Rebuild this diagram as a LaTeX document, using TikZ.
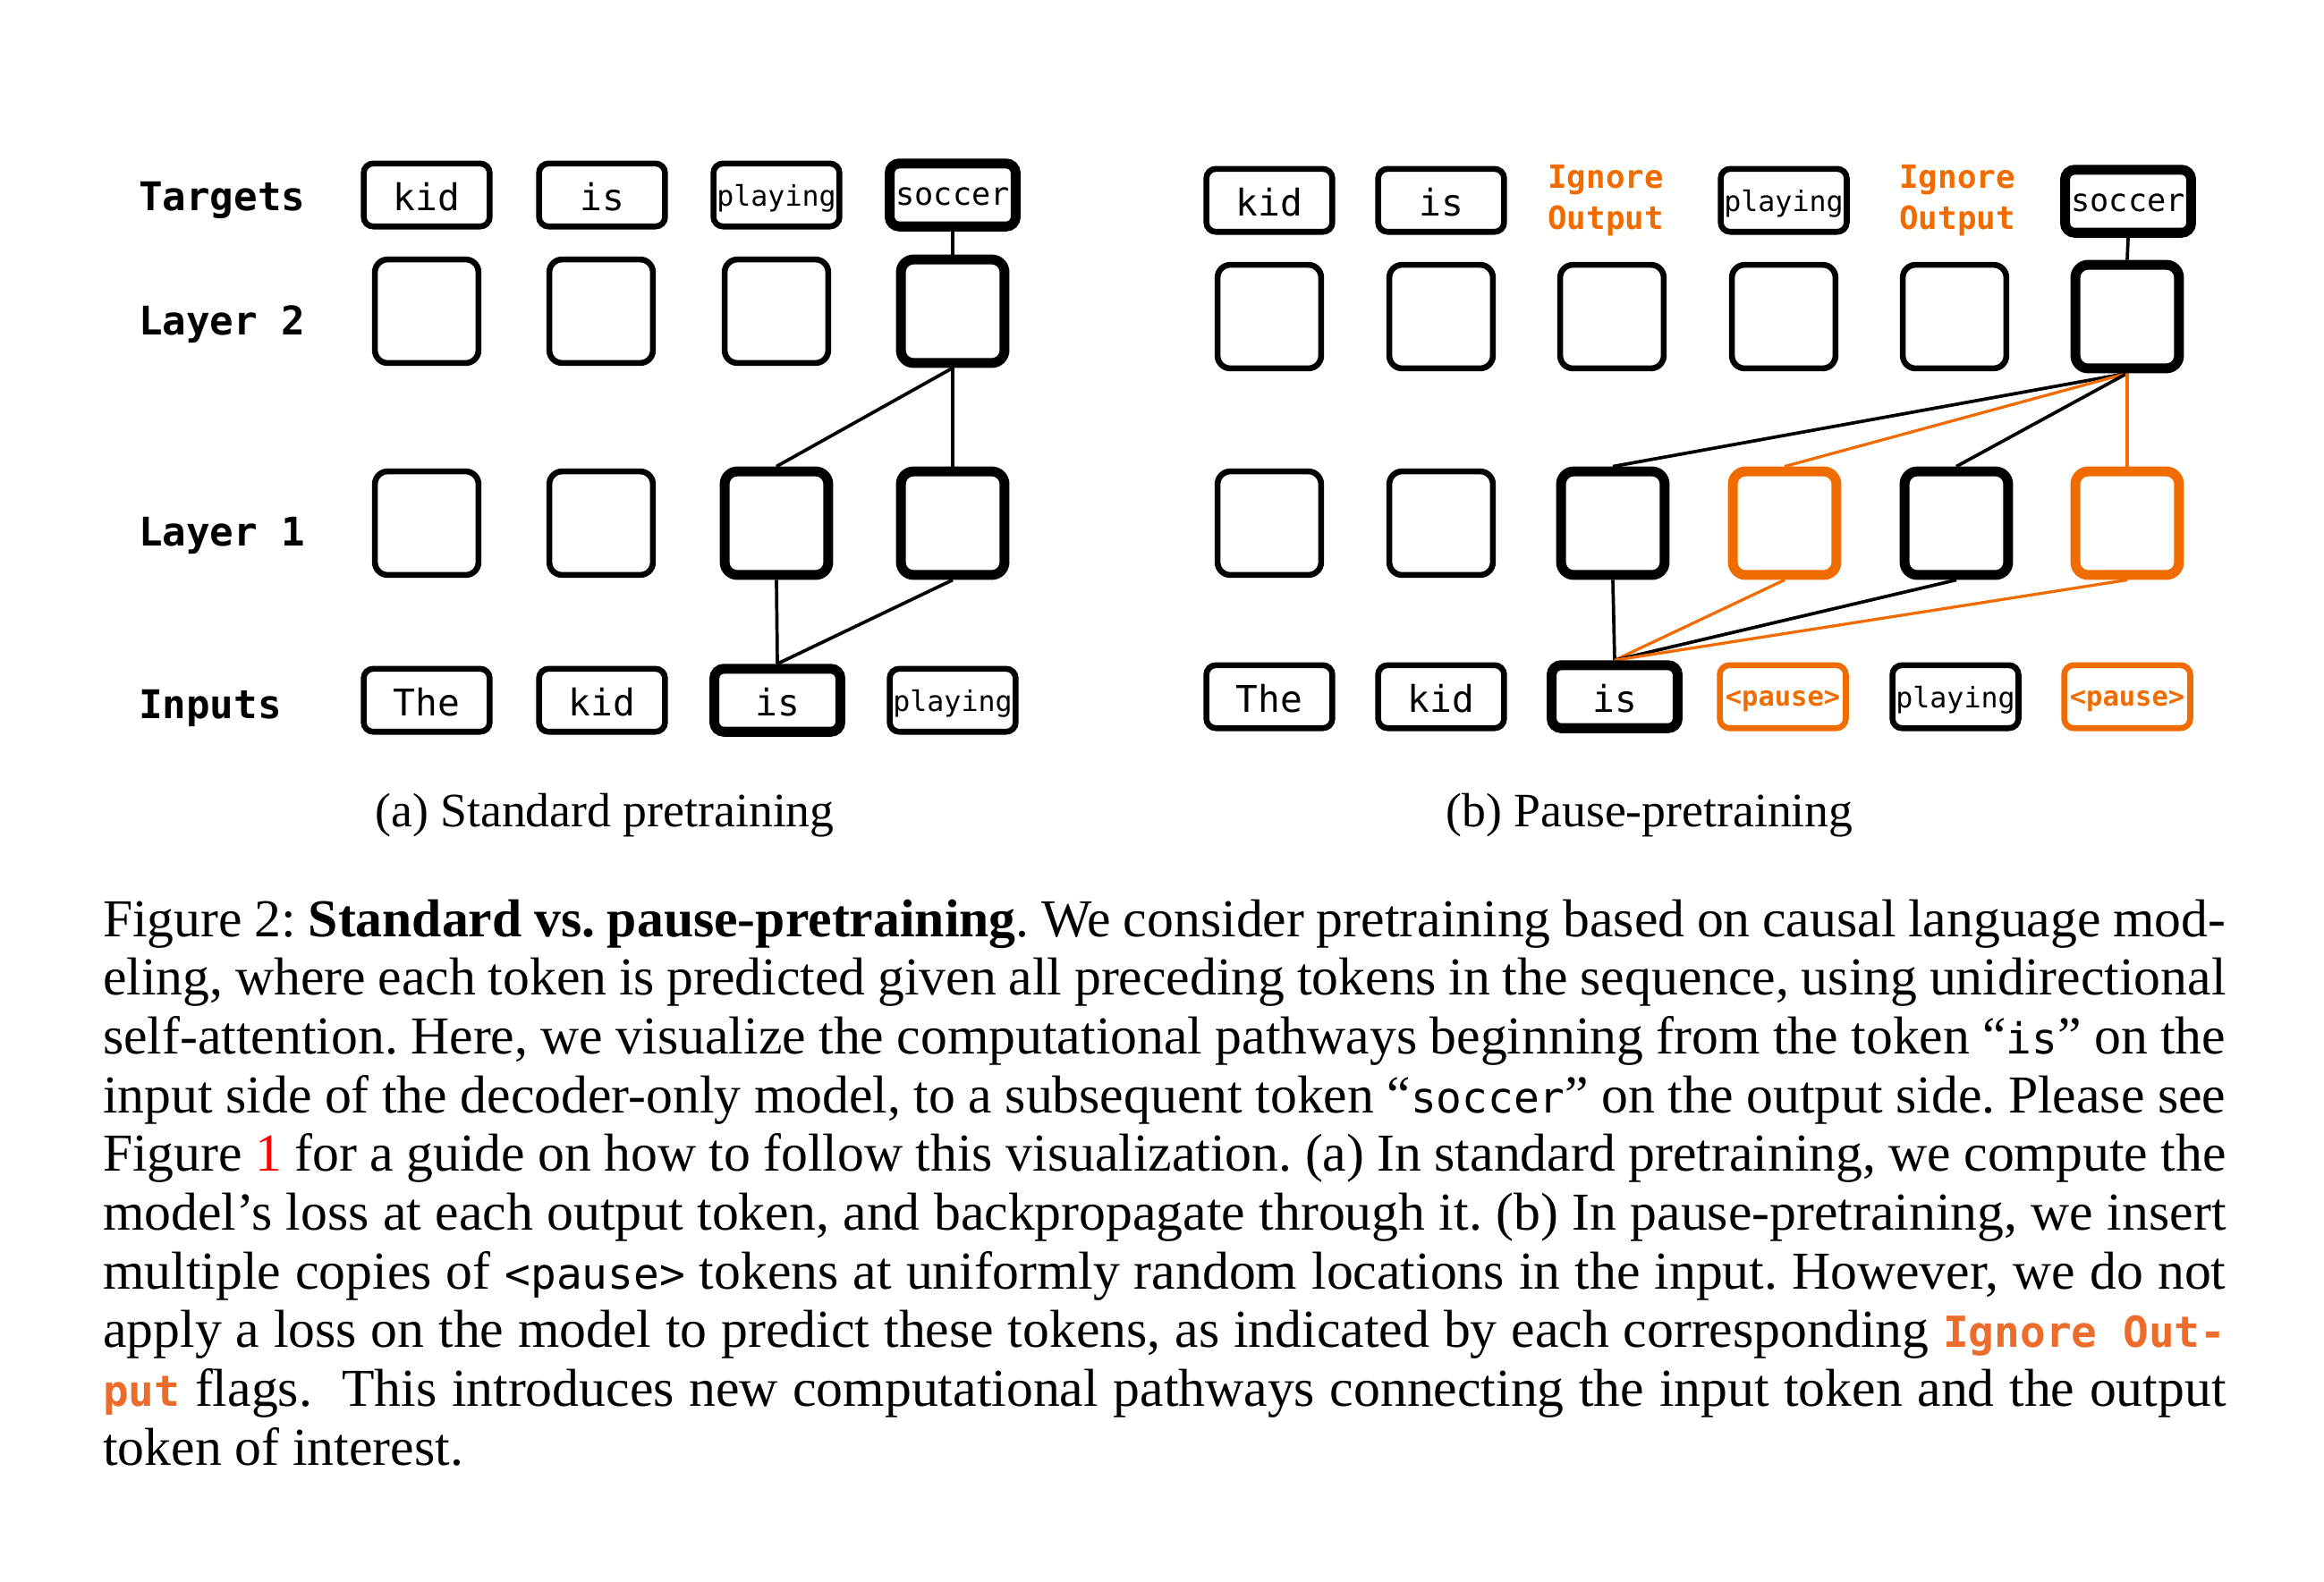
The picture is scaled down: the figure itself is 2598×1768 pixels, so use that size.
\documentclass[tikz,border=0pt]{standalone}
\usepackage{fontspec}
\setmainfont{Liberation Serif}
\setmonofont{DejaVu Sans Mono}[Scale=0.8]
\newfontfamily\dmono{DejaVu Sans Mono}
\usetikzlibrary{backgrounds}
\definecolor{orng}{RGB}{240,108,0}
\definecolor{corng}{RGB}{236,108,44}
\newcommand\capline[1]{\makebox[\linewidth][s]{#1}\par}
\begin{document}
\begin{tikzpicture}[x=0.1675pt,y=-0.1675pt,
  tok/.style={draw, rounded corners=1.8pt, line width=1.1pt, minimum width=23.6pt,
    minimum height=11.8pt, inner sep=0pt, text height=5.8pt, text depth=0pt,
    font={\dmono\fontsize{6.9}{7}\selectfont}},
  smalltok/.style={font={\dmono\fontsize{5.3}{6}\selectfont}, text height=4.1pt},
  soctok/.style={font={\dmono\fontsize{5.9}{7}\selectfont}, text height=4.0pt},
  pausetok/.style={draw=orng, text=orng, font={\dmono\bfseries\fontsize{5.1}{6}\selectfont}, text height=3.5pt},
  lay/.style={draw, rounded corners=2.4pt, line width=1.1pt, minimum size=19.4pt, inner sep=0pt},
  thk/.style={line width=1.85pt},
  org/.style={draw=orng},
  ign/.style={text=orng, align=center, inner sep=0pt, font={\dmono\bfseries\fontsize{6}{7.7}\selectfont}},
  lab/.style={anchor=base west, inner sep=0pt, font={\dmono\bfseries\fontsize{7.4}{8}\selectfont}},
  sub/.style={anchor=base, inner sep=0pt, font={\fontsize{9}{11}\selectfont}},
  conn/.style={line width=0.62pt},
  oconn/.style={line width=0.55pt, draw=orng}]
\useasboundingbox (0,0) rectangle (2598,1768);

% ---------- (a) Standard pretraining ----------
\node[lab] (labT) at (154,235) {Targets};
\node[lab] (labL2) at (154,374) {Layer 2};
\node[lab] (labL1) at (154,610) {Layer 1};
\node[lab] (labI) at (154,803) {Inputs};

\node[tok] (aT1) at (477,218) {kid};
\node[tok] (aT2) at (673,218) {is};
\node[tok,smalltok] (aT3) at (868,218) {playing};
\node[tok,soctok,thk] (aT4) at (1065,218) {soccer};

\node[lay] (aA1) at (477,348) {};
\node[lay] (aA2) at (672,348) {};
\node[lay] (aA3) at (868,348) {};
\node[lay,thk] (aA4) at (1065,348) {};

\node[lay] (aB1) at (477,585) {};
\node[lay] (aB2) at (672,585) {};
\node[lay,thk] (aB3) at (868,585) {};
\node[lay,thk] (aB4) at (1065,585) {};

\node[tok] (aI1) at (477,783) {The};
\node[tok] (aI2) at (673,783) {kid};
\node[tok,thk] (aI3) at (869,783) {is};
\node[tok,smalltok] (aI4) at (1065,783) {playing};

\node[sub] (capa) at (676,924) {(a) Standard pretraining};

% ---------- (b) Pause-pretraining ----------
\node[tok] (bT1) at (1419,224) {kid};
\node[tok] (bT2) at (1611,224) {is};
\node[ign] (bT3) at (1795,224) {Ignore\\Output};
\node[tok,smalltok] (bT4) at (1994,224) {playing};
\node[ign] (bT5) at (2188,224) {Ignore\\Output};
\node[tok,soctok,thk] (bT6) at (2379,225) {soccer};

\node[lay] (bA1) at (1419,354) {};
\node[lay] (bA2) at (1611,354) {};
\node[lay] (bA3) at (1802,354) {};
\node[lay] (bA4) at (1994,354) {};
\node[lay] (bA5) at (2185,354) {};
\node[lay,thk] (bA6) at (2378,354) {};

\node[lay] (bB1) at (1419,585) {};
\node[lay] (bB2) at (1611,585) {};
\node[lay,thk] (bB3) at (1803,585) {};
\node[lay,thk,org] (bB4) at (1995,585) {};
\node[lay,thk] (bB5) at (2187,585) {};
\node[lay,thk,org] (bB6) at (2378,585) {};

\node[tok] (bI1) at (1419,779) {The};
\node[tok] (bI2) at (1611,779) {kid};
\node[tok,thk] (bI3) at (1805,779) {is};
\node[tok,pausetok] (bI4) at (1993,779) {<pause>};
\node[tok,smalltok] (bI5) at (2186,779) {playing};
\node[tok,pausetok] (bI6) at (2378,779) {<pause>};

\node[sub] (capb) at (1844,924) {(b) Pause-pretraining};

% ---------- connectors ----------
\begin{scope}[on background layer]
\draw[conn] (aT4.south) -- (aA4.north);
\draw[conn] (aA4.south) -- (aB3.north);
\draw[conn] (aA4.south) -- (aB4.north);
\draw[conn] (aB3.south) -- (aI3.north);
\draw[conn] (aB4.south) -- (aI3.north);

\draw[conn] (bT6.south) -- (bA6.north);
\draw[conn] (bA6.south) -- (bB3.north);
\draw[oconn] (bA6.south) -- (bB4.north);
\draw[conn] (bA6.south) -- (bB5.north);
\draw[oconn] (bA6.south) -- (bB6.north);
\draw[conn] (bB3.south) -- (bI3.north);
\draw[oconn] (bB4.south) -- (bI3.north);
\draw[conn] (bB5.south) -- (bI3.north);
\draw[oconn] (bB6.south) -- (bI3.north);
\end{scope}

% ---------- caption ----------
\node[anchor=base west, inner sep=0pt] (caption) at (114,1047) {\parbox[t]{397.5pt}{\fontsize{10}{11}\selectfont\frenchspacing
\capline{Figure 2: \textbf{Standard vs. pause-pretraining}. We consider pretraining based on causal language mod-}
\capline{eling, where each token is predicted given all preceding tokens in the sequence, using unidirectional}
\capline{self-attention. Here, we visualize the computational pathways beginning from the token “\texttt{is}” on the}
\capline{input side of the decoder-only model, to a subsequent token “\texttt{soccer}” on the output side. Please see}
\capline{Figure {\color{red}1} for a guide on how to follow this visualization. (a) In standard pretraining, we compute the}
\capline{model’s loss at each output token, and backpropagate through it. (b) In pause-pretraining, we insert}
\capline{multiple copies of \texttt{<pause>} tokens at uniformly random locations in the input. However, we do not}
\capline{apply a loss on the model to predict these tokens, as indicated by each corresponding {\color{corng}\ttfamily\bfseries Ignore Out-}}
\capline{{\color{corng}\ttfamily\bfseries put} flags.\ \ This introduces new computational pathways connecting the input token and the output}
token of interest.}};
\end{tikzpicture}
\end{document}
